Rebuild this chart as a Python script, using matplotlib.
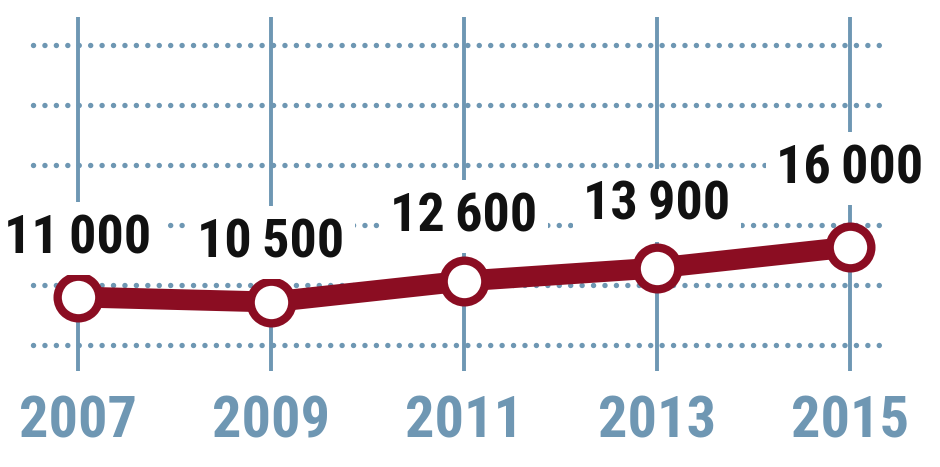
import matplotlib
matplotlib.use("Agg")
import matplotlib.pyplot as plt

# ---- data ----
years = [2007, 2009, 2011, 2013, 2015]
values = [11000, 10500, 12600, 13900, 16000]
value_labels = ["11\u2009000", "10\u2009500", "12\u2009600", "13\u2009900", "16\u2009000"]
year_labels = ["2007", "2009", "2011", "2013", "2015"]

# ---- layout / style ----
label_dy_px = [44, 45, 50, 48, 64]   # gap between point centre and label baseline
grid_vals = [6200, 12200, 18200, 24200, 30200, 36200]
GRID_C = "#6e97b3"
LINE_C = "#8b0d22"
FONTS = ["Roboto Condensed", "Liberation Sans Narrow", "DejaVu Sans Condensed",
         "Liberation Sans", "DejaVu Sans"]

fig = plt.figure(figsize=(9.4, 4.67), dpi=100)
ax = fig.add_axes([0, 0, 1, 1])
ax.set_xlim(2006.192, 2015.933)
ax.set_ylim(-6000, 40700)
ax.axis("off")

# dotted horizontal grid
ax.hlines(grid_vals, 2006.534, 2015.415, colors=GRID_C, linewidth=3.9,
          linestyles=[(0, (0.01, 2.1))], zorder=1)
for ln in ax.collections:
    ln.set_capstyle("round")

# vertical year lines
ax.vlines(years, 3600, 39000, colors=GRID_C, linewidth=2.8, zorder=1)

# main line
ax.plot(years, values, color=LINE_C, linewidth=15, solid_capstyle="round",
        zorder=3)
ax.plot(years, values, linestyle="none", marker="o", markersize=30,
        markerfacecolor="white", markeredgecolor=LINE_C, markeredgewidth=6,
        zorder=4)

# value labels
for x, v, t, dy in zip(years, values, value_labels, label_dy_px):
    ax.annotate(t, (x, v), xytext=(0, dy * 0.72), textcoords="offset points",
                ha="center", va="baseline", fontsize=39, fontweight="bold",
                family=FONTS, color="#111111", zorder=5,
                bbox=dict(boxstyle="square,pad=0.2", fc="white", ec="none"))

# year labels
for x, t in zip(years, year_labels):
    ax.text(x, -3000, t, ha="center", va="baseline", fontsize=42,
            fontweight="bold", family=FONTS, color="#6f97b3", zorder=5)

fig.savefig("out.png", dpi=100, facecolor="white")
